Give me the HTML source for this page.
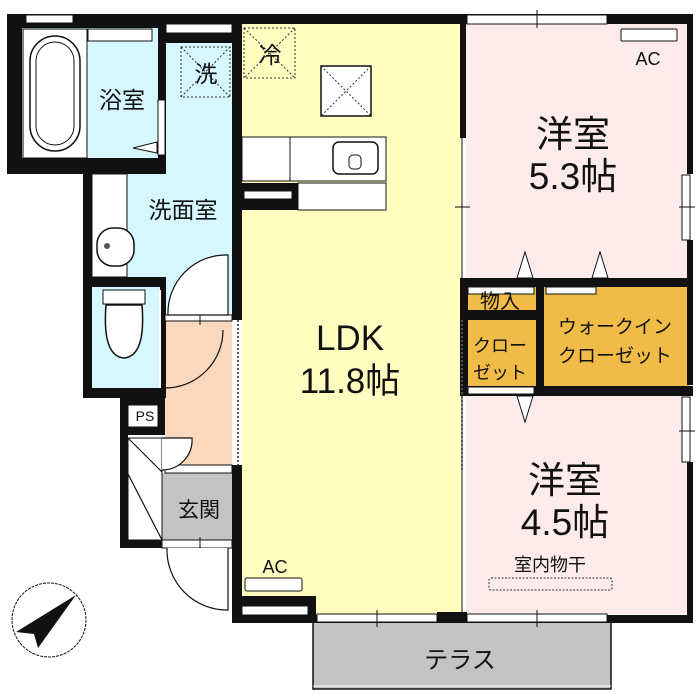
<!DOCTYPE html>
<html><head><meta charset="utf-8"><style>
html,body{margin:0;padding:0;background:#fff;}
svg{display:block;}
text{font-family:"Liberation Sans","Noto Sans CJK JP",sans-serif;fill:#111;}
</style></head><body>
<svg width="700" height="700" viewBox="0 0 700 700" xmlns="http://www.w3.org/2000/svg">
<rect x="242" y="22" width="220" height="596" fill="#fffdc0"/>
<rect x="466" y="22" width="222" height="258" fill="#fdebec"/>
<rect x="466" y="396" width="222" height="218" fill="#fdebec"/>
<rect x="22" y="28" width="136" height="130" fill="#d5f7fd"/>
<rect x="92" y="33" width="140" height="287" fill="#d5f7fd"/>
<rect x="92" y="287" width="68" height="102" fill="#d5f7fd"/>
<rect x="165" y="320" width="67" height="145" fill="#f9d8be"/>
<rect x="162" y="473" width="70" height="67" fill="#c3c3c3"/>
<rect x="466" y="284" width="70" height="28" fill="#f0bb46"/>
<rect x="466" y="320" width="70" height="66" fill="#f0bb46"/>
<rect x="544" y="287" width="146" height="101" fill="#f0bb46"/>
<rect x="313" y="622" width="298" height="67" fill="#c3c3c3" stroke="#111" stroke-width="1.5"/>
<line x1="313" y1="686" x2="611" y2="686" stroke="#fff" stroke-width="1"/>

<g fill="#111">
<rect x="7" y="14" width="159" height="14"/>
<rect x="7" y="14" width="15" height="160"/>
<rect x="7" y="158" width="159" height="16"/>
<rect x="158" y="14" width="8" height="160"/>
<rect x="158" y="14" width="535" height="10"/>
<rect x="166" y="33" width="76" height="10"/>
<rect x="83" y="174" width="9" height="224"/>
<rect x="232" y="14" width="10" height="306"/>
<rect x="232" y="465" width="10" height="158"/>
<rect x="83" y="277" width="83" height="10"/>
<rect x="160" y="277" width="6" height="121"/>
<rect x="83" y="388" width="83" height="10"/>
<rect x="120" y="398" width="45" height="37"/>
<rect x="120" y="435" width="8" height="113"/>
<rect x="120" y="540" width="42" height="8"/>
<rect x="232" y="596" width="84" height="27"/>
<rect x="232" y="615" width="461" height="8"/>
<rect x="437" y="612" width="30" height="11"/>
<rect x="460" y="14" width="6" height="124"/>
<rect x="687" y="14" width="6" height="160"/>
<rect x="687" y="240" width="6" height="145"/>
<rect x="687" y="462" width="6" height="161"/>
<rect x="460" y="278" width="8" height="117"/>
<rect x="536" y="278" width="8" height="117"/>
<rect x="460" y="278" width="233" height="9"/>
<rect x="460" y="310" width="84" height="10"/>
<rect x="460" y="386" width="233" height="10"/>
<rect x="242" y="183" width="56" height="27"/>
</g>
<g fill="#fff" stroke="#111" stroke-width="1">
<rect x="26" y="15" width="47" height="8"/>
<rect x="166" y="24" width="66" height="9"/>
<rect x="467" y="15" width="140" height="9"/>
<rect x="317" y="614" width="120" height="8"/>
<rect x="467" y="614" width="140" height="8"/>
<rect x="682" y="175" width="8" height="65"/>
<rect x="682" y="397" width="8" height="65"/>
<rect x="242" y="606" width="66" height="9"/>
<rect x="244" y="191" width="48" height="8"/>
<rect x="158" y="100" width="7" height="55"/>
<rect x="128" y="405" width="30" height="22"/>
<rect x="128" y="438" width="34" height="102"/>
<rect x="468" y="287" width="66" height="7"/>
<rect x="546" y="287" width="50" height="7"/>
<rect x="468" y="387" width="66" height="7"/>
<rect x="162" y="540" width="70" height="8"/>
<rect x="165" y="315" width="67" height="6"/>
<rect x="165" y="465" width="67" height="8"/>
</g>
<g stroke="#111" stroke-width="1">
<line x1="537" y1="10" x2="537" y2="28"/>
<line x1="377" y1="610" x2="377" y2="627"/>
<line x1="537" y1="610" x2="537" y2="627"/>
<line x1="679" y1="207" x2="695" y2="207"/>
<line x1="679" y1="431" x2="695" y2="431"/>
<line x1="455" y1="207" x2="470" y2="207"/>
<line x1="200" y1="311" x2="200" y2="325"/>
<line x1="200" y1="537" x2="200" y2="552"/>
<line x1="462" y1="138" x2="462" y2="278"/>
<line x1="462" y1="396" x2="462" y2="614"/>
</g>
<line x1="238" y1="320" x2="238" y2="465" stroke="#555" stroke-width="2" stroke-dasharray="2,2"/>
<line x1="462" y1="320" x2="462" y2="470" stroke="#555" stroke-width="2" stroke-dasharray="2,2"/>
<rect x="23" y="29" width="64" height="129" fill="#fff" stroke="#111"/>
<rect x="30" y="36" width="50" height="115" rx="25" fill="#fff" stroke="#111" stroke-width="1.5"/>
<rect x="36" y="42" width="38" height="103" rx="19" fill="none" stroke="#111"/>
<rect x="88" y="29" width="64" height="12" fill="#fff" stroke="#111"/>
<path d="M157 142 L133 148 L157 153 Z" fill="#fff" stroke="#111"/>
<rect x="92" y="174" width="35" height="103" fill="#fff" stroke="#111"/>
<rect x="97" y="228" width="37" height="38" rx="16" fill="#fff" stroke="#111" stroke-width="1.5"/>
<circle cx="107" cy="246" r="3" fill="#555"/>
<rect x="103" y="290" width="42" height="14" fill="#fff" stroke="#111"/>
<path d="M106 305 Q102 356 124 358 Q146 356 142 305 Z" fill="#fff" stroke="#111" stroke-width="1.5"/>
<g fill="#fff" stroke="#111" stroke-width="1.2">
<path d="M168 315 A58 58 0 0 1 228 255 L228 315 Z"/>
<path d="M223 330 A58 58 0 0 1 165 388" fill="none"/>
<path d="M162 438 L192 438 A30 30 0 0 1 162 470" />
<path d="M167 548 A60 60 0 0 0 228 610 L228 548"/>
<line x1="128" y1="438" x2="162" y2="472"/>
<line x1="128" y1="474" x2="162" y2="540"/>
</g>
<line x1="160" y1="290" x2="160" y2="388" stroke="#fff" stroke-width="2"/>
<g fill="#fff" stroke="#111">
<path d="M517 278 L525 252 L533 278 Z"/>
<path d="M592 278 L600 252 L608 278 Z"/>
<path d="M517 396 L525 422 L533 396 Z"/>
</g>
<rect x="244" y="28" width="51" height="50" fill="none" stroke="#333" stroke-dasharray="2,2"/>
<line x1="244" y1="28" x2="295" y2="78" stroke="#333" stroke-dasharray="2,2"/>
<line x1="295" y1="28" x2="244" y2="78" stroke="#333" stroke-dasharray="2,2"/>
<rect x="181" y="47" width="49" height="50" fill="none" stroke="#333" stroke-dasharray="2,2"/>
<line x1="181" y1="47" x2="230" y2="97" stroke="#333" stroke-dasharray="2,2"/>
<line x1="230" y1="47" x2="181" y2="97" stroke="#333" stroke-dasharray="2,2"/>
<rect x="321" y="66" width="50" height="50" fill="#fff" stroke="#111" stroke-width="1.5"/>
<line x1="321" y1="66" x2="371" y2="116" stroke="#333" stroke-dasharray="2,2"/>
<line x1="371" y1="66" x2="321" y2="116" stroke="#333" stroke-dasharray="2,2"/>
<rect x="242" y="137" width="144" height="44" fill="#fff" stroke="#111"/>
<line x1="290" y1="137" x2="290" y2="181" stroke="#111"/>
<rect x="333" y="142" width="45" height="32" rx="6" fill="#fff" stroke="#111" stroke-width="1.5"/>
<rect x="349" y="155" width="12" height="14" rx="4" fill="#fff" stroke="#111"/>
<rect x="298" y="183" width="88" height="27" fill="#fff" stroke="#111"/>
<rect x="621" y="29" width="56" height="12" rx="1" fill="#fff" stroke="#111"/>
<rect x="245" y="578" width="57" height="13" rx="2" fill="#fff" stroke="#111"/>
<rect x="489" y="578" width="123" height="12" rx="2" fill="none" stroke="#333" stroke-dasharray="2,1.5"/>
<circle cx="49" cy="620" r="37" fill="#fff" stroke="#111" stroke-dasharray="3,1"/>
<path d="M76 595 L38 648 L34 634 L16 632 Z" fill="#111"/>
<text x="122" y="108" font-size="23" text-anchor="middle">浴室</text>
<text x="206" y="82" font-size="23" text-anchor="middle">洗</text>
<text x="270" y="63" font-size="23" text-anchor="middle">冷</text>
<text x="183" y="218" font-size="23" text-anchor="middle">洗面室</text>
<text x="145" y="421" font-size="14" text-anchor="middle">PS</text>
<text x="199" y="517" font-size="21" text-anchor="middle">玄関</text>
<text x="350" y="350" font-size="35" text-anchor="middle">LDK</text>
<text x="350" y="393" font-size="35" text-anchor="middle">11.8帖</text>
<text x="573" y="147" font-size="37" text-anchor="middle">洋室</text>
<text x="573" y="189" font-size="37" text-anchor="middle">5.3帖</text>
<text x="565" y="493" font-size="37" text-anchor="middle">洋室</text>
<text x="565" y="535" font-size="37" text-anchor="middle">4.5帖</text>
<text x="550" y="571" font-size="18" text-anchor="middle">室内物干</text>
<text x="648" y="65" font-size="18" text-anchor="middle">AC</text>
<text x="275" y="573" font-size="18" text-anchor="middle">AC</text>
<text x="500" y="308" font-size="20" text-anchor="middle">物入</text>
<text x="500" y="352" font-size="18" text-anchor="middle">クロー</text>
<text x="500" y="379" font-size="18" text-anchor="middle">ゼット</text>
<text x="615" y="333" font-size="19" text-anchor="middle">ウォークイン</text>
<text x="615" y="362" font-size="19" text-anchor="middle">クローゼット</text>
<text x="460" y="668" font-size="24" text-anchor="middle">テラス</text>
</svg>
</body></html>
